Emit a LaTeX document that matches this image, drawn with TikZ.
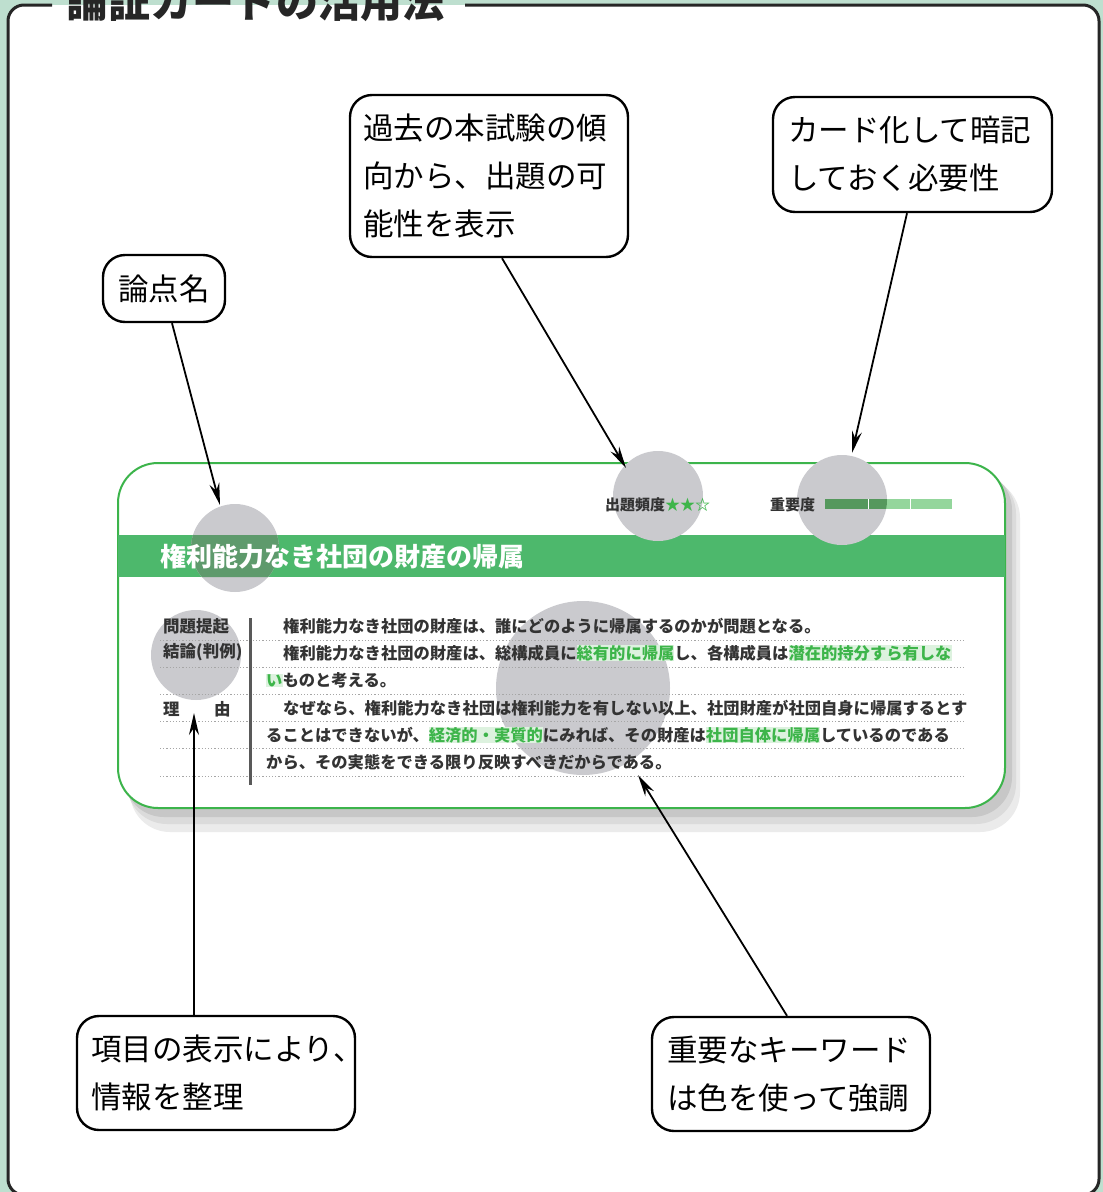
\documentclass[tikz,border=0pt]{standalone}
\usepackage{fontspec}
\setmainfont{Noto Sans CJK JP}
\usetikzlibrary{arrows.meta}
\definecolor{mint}{HTML}{BEDFCF}
\definecolor{cardgreen}{HTML}{3CB44B}
\definecolor{band}{HTML}{4DB86C}
\definecolor{banddark}{HTML}{5E9A6C}
\definecolor{kwfg}{HTML}{3DB54A}
\definecolor{kwbg}{HTML}{DDF2DF}
\definecolor{circ}{HTML}{CACACE}
\definecolor{txt}{HTML}{333333}
\newcommand\kw[1]{{\setlength\fboxsep{0pt}\colorbox{kwbg}{\textcolor{kwfg}{#1}}}}
\tikzset{
  callout/.style={draw, line width=2.4, rounded corners=22, fill=white, align=left,
    font=\fontsize{30.5}{48}\selectfont, inner sep=0},
  arr/.style={line width=1.8, -{Stealth[length=22,width=10]}},
  body/.style={anchor=west, inner sep=0, text=txt, font=\fontsize{16.3}{16.3}\selectfont\bfseries},
  lbl/.style={anchor=west, inner sep=0, text=txt, font=\fontsize{16.5}{16.5}\selectfont\bfseries},
  dotline/.style={gray!70, line width=0.8, dash pattern=on 1.2 off 2},
  spot/.style={fill=circ}
}
\begin{document}
\begin{tikzpicture}[x=1pt,y=-1pt]
\useasboundingbox (0,0) rectangle (1103,1192);
\clip (0,0) rectangle (1103,1192);
\fill[mint] (0,0) rectangle (1103,1192);
% outer frame
\fill[white, rounded corners=16] (8,5) rectangle (1099,1195);
\draw[line width=3, rounded corners=16, black!85] (465,5) -- (1099,5) -- (1099,1195) -- (8,1195) -- (8,5) -- (52,5);
\node[anchor=base west, inner sep=0, font=\fontsize{42}{42}\selectfont\bfseries, text=black!85] (title) at (66,17) {論証カードの活用法};

% card shadow
\fill[black!8, rounded corners=40] (130,478) rectangle (1020,832);
\fill[black!14, rounded corners=40] (127,474) rectangle (1016,824);
\fill[black!22, rounded corners=40] (124,470) rectangle (1012,817);
% card
\fill[white, rounded corners=40] (118,463) rectangle (1005,808);
\draw[cardgreen, line width=2, rounded corners=40] (118,463) rectangle (1005,808);
\fill[band] (118,535) rectangle (1005,577);

% spots
\fill[spot] (235,548) circle (44);
\fill[banddark] (192.96,535) -- (277.04,535) arc[start angle=-17.18, end angle=41.23, radius=44]
  -- (201.91,577) arc[start angle=138.77, end angle=197.18, radius=44] -- cycle;
\fill[spot] (658,496) circle (45);
\fill[spot] (842,500) circle (45);
\fill[spot] (196,655) circle (45);
\fill[spot] (583,688) circle (87);

% header
\node[lbl, font=\fontsize{15}{15}\selectfont\bfseries] (freq) at (605,505) {出題頻度\textcolor{kwfg}{★★☆}};
\node[lbl, font=\fontsize{15}{15}\selectfont\bfseries] (imp) at (770,505) {重要度};
\fill[kwfg!55] (825,499) rectangle (952,509);
\begin{scope}
\clip (842,500) circle (45);
\fill[kwfg!70!black!80] (825,499) rectangle (952,509);
\end{scope}
\draw[white, line width=0.6] (868,499) -- (868,509) (910,499) -- (910,509);

% banner title
\node[anchor=west, inner sep=0, text=white, font=\fontsize{26}{26}\selectfont\bfseries] (banner) at (160,557) {権利能力なき社団の財産の帰属};

% dotted rules
\foreach \yy in {640,667,694,721,748,776} \draw[dotline] (160,\yy) -- (966,\yy);
\draw[black!65, line width=3] (250,618) -- (250,785);

% labels
\node[lbl] (l1) at (163,626) {問題提起};
\node[lbl] (l2) at (163,652) {結論(判例)};
\node[lbl] (l3a) at (163,709) {理};
\node[lbl] (l3b) at (214,709) {由};

% body
\node[body] (b1) at (283,626) {権利能力なき社団の財産は、誰にどのように帰属するのかが問題となる。};
\node[body] (b2) at (283,653) {権利能力なき社団の財産は、総構成員に\kw{総有的に帰属}し、各構成員は\kw{潜在的持分すら有しな}};
\node[body] (b3) at (266,680) {\kw{い}ものと考える。};
\node[body] (b4) at (283,708) {なぜなら、権利能力なき社団は権利能力を有しない以上、社団財産が社団自身に帰属するとす};
\node[body] (b5) at (266,735) {ることはできないが、\kw{経済的・実質的}にみれば、その財産は\kw{社団自体に帰属}しているのである};
\node[body] (b6) at (266,762) {から、その実態をできる限り反映すべきだからである。};

% callouts
\node[callout, minimum width=122, minimum height=67, text width=92, align=center] (ron) at (164,288.5) {論点名};
\node[callout, minimum width=278, minimum height=162, text width=252] (kako) at (489,176) {過去の本試験の傾\\向から、出題の可\\能性を表示};
\node[callout, minimum width=279, minimum height=115, text width=249] (card) at (912.5,154.5) {カード化して暗記\\しておく必要性};
\node[callout, minimum width=278, minimum height=114, text width=250] (komoku) at (216,1073) {項目の表示により、\\情報を整理};
\node[callout, minimum width=278, minimum height=114, text width=248] (jyuyo) at (791,1074) {重要なキーワード\\は色を使って強調};

% targets
\coordinate (t1) at (220,505);
\coordinate (t2) at (626,468);
\coordinate (t3) at (852,453);
\coordinate (t4) at (194,713);
\coordinate (t5) at (638,775);

\draw[arr] ([xshift=8]ron.south) -- (t1);
\draw[arr] ([xshift=13]kako.south) -- (t2);
\draw[arr] ([xshift=-5.5]card.south) -- (t3);
\draw[arr] ([xshift=-22]komoku.north) -- (t4);
\draw[arr] ([xshift=-4]jyuyo.north) -- (t5);
\end{tikzpicture}
\end{document}
